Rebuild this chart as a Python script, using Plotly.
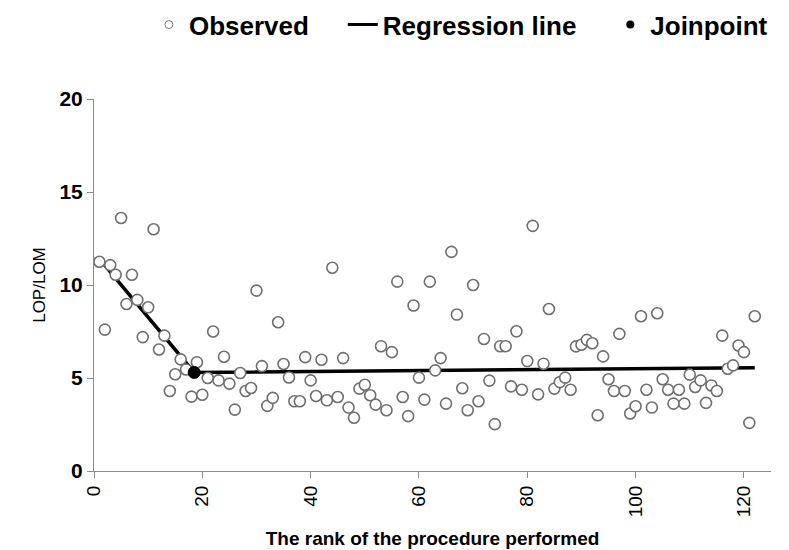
import plotly.graph_objects as go

# Observed LOP/LOM by rank of procedure (1..122)
ranks = list(range(1, 123))
observed = [
    11.25, 7.6, 11.07, 10.55, 13.6, 8.98, 10.55, 9.2, 7.2, 8.8,
    13.0, 6.53, 7.28, 4.3, 5.2, 6.0, 5.46, 4.0, 5.85, 4.1,
    5.0, 7.5, 4.87, 6.14, 4.7, 3.3, 5.27, 4.3, 4.46, 9.7,
    5.64, 3.5, 3.93, 8.0, 5.75, 5.03, 3.75, 3.75, 6.12, 4.87,
    4.03, 5.98, 3.8, 10.93, 3.98, 6.07, 3.41, 2.86, 4.43, 4.64,
    4.07, 3.57, 6.71, 3.27, 6.39, 10.18, 3.98, 2.95, 8.9, 5.02,
    3.84, 10.18, 5.41, 6.07, 3.62, 11.78, 8.41, 4.45, 3.27, 10.0,
    3.75, 7.1, 4.86, 2.52, 6.71, 6.71, 4.55, 7.51, 4.37, 5.91,
    13.18, 4.12, 5.77, 8.71, 4.43, 4.78, 5.02, 4.37, 6.7, 6.79,
    7.05, 6.87, 3.0, 6.16, 4.93, 4.3, 7.37, 4.3, 3.09, 3.48,
    8.32, 4.37, 3.41, 8.48, 4.93, 4.37, 3.62, 4.37, 3.62, 5.18,
    4.52, 4.87, 3.66, 4.6, 4.3, 7.28, 5.5, 5.68, 6.75, 6.39,
    2.59, 8.32,
]

# Joinpoint regression line
reg_x = [1, 18.5, 122]
reg_y = [11.4, 5.3, 5.55]

joinpoint_x = [18.5]
joinpoint_y = [5.3]

x_ticks = [0, 20, 40, 60, 80, 100, 120]
y_ticks = [0, 5, 10, 15, 20]

FONT = "Liberation Sans Narrow, Arial Narrow, Liberation Sans, Arial, sans-serif"
GREY = "#8a8a8a"
NB = "\u00a0"

fig = go.Figure()

fig.add_trace(go.Scatter(
    x=reg_x, y=reg_y, mode="lines",
    line=dict(color="black", width=3.5),
    name="Regression line", showlegend=False,
))
fig.add_trace(go.Scatter(
    x=ranks, y=observed, mode="markers",
    marker=dict(symbol="circle", size=11, color="white",
                line=dict(color="#6f6f6f", width=1.6)),
    name="Observed", showlegend=False,
))
fig.add_trace(go.Scatter(
    x=joinpoint_x, y=joinpoint_y, mode="markers",
    marker=dict(symbol="circle", size=12, color="black",
                line=dict(color="black", width=1)),
    name="Joinpoint", showlegend=False,
))

# Legend-only traces
fig.add_trace(go.Scatter(
    x=[None], y=[None], mode="markers",
    marker=dict(symbol="circle", size=8, color="white",
                line=dict(color="#7a7a7a", width=1)),
    name="Observed" + NB * 4,
))
fig.add_trace(go.Scatter(
    x=[None], y=[None], mode="lines",
    line=dict(color="black", width=3),
    name="Regression line" + NB * 4,
))
fig.add_trace(go.Scatter(
    x=[None], y=[None], mode="markers",
    marker=dict(symbol="circle", size=8, color="black"),
    name="Joinpoint",
))

fig.update_layout(
    width=789, height=550,
    paper_bgcolor="white", plot_bgcolor="white",
    margin=dict(l=94, r=18, t=99, b=79, autoexpand=False),
    font=dict(family=FONT, color="black"),
    legend=dict(
        orientation="h", x=0.542, xanchor="center", y=1.263, yanchor="top",
        font=dict(family=FONT, size=26, color="black", weight="bold"),
        bgcolor="rgba(0,0,0,0)", itemwidth=30, tracegroupgap=0,
    ),
    xaxis=dict(
        range=[0, 125], tickvals=x_ticks, ticktext=[str(v) for v in x_ticks],
        tickangle=-90, showgrid=False, zeroline=False,
        showline=True, linecolor=GREY, linewidth=1,
        ticks="outside", ticklen=6, tickcolor=GREY, tickwidth=1,
        tickfont=dict(family=FONT, size=19, color="black"),
        title=dict(text="<b>The rank of the procedure performed</b>",
                   font=dict(family=FONT, size=19, color="black"), standoff=15),
    ),
    yaxis=dict(
        range=[0, 20], tickvals=y_ticks, showgrid=False, zeroline=False,
        showline=True, linecolor=GREY, linewidth=1,
        ticks="outside", ticklen=6, tickcolor=GREY, tickwidth=1,
        tickfont=dict(family=FONT, size=21, color="black", weight="bold"),
        title=dict(text="LOP/LOM", font=dict(family="Liberation Sans, Arial, sans-serif", size=17, color="black"),
                   standoff=9),
    ),
)

fig.write_html("out.html", config={"displayModeBar": False},
               post_script="document.body.style.margin='0';")
